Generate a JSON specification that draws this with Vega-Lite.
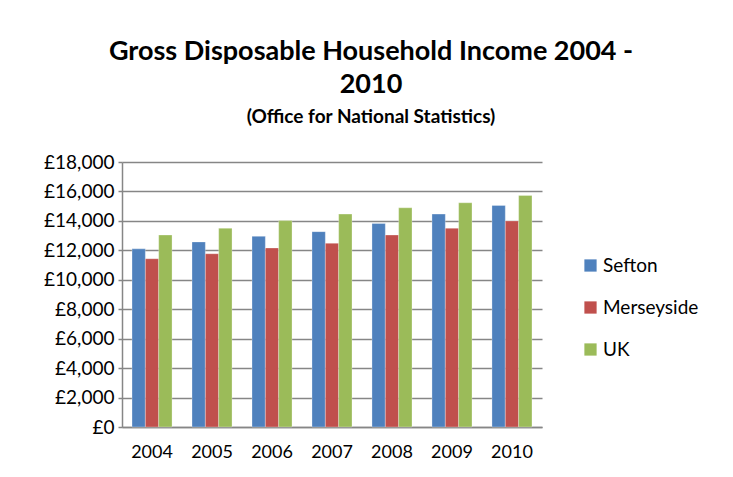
{
  "$schema": "https://vega.github.io/schema/vega-lite/v6.json",
  "width": 420,
  "height": 265,
  "autosize": {"type": "none"},
  "padding": {"left": 122, "top": 162, "right": 191, "bottom": 50},
  "background": "white",
  "title": {
    "text": ["Gross Disposable Household Income 2004 -", "2010"],
    "subtitle": "(Office for National Statistics)",
    "anchor": "middle",
    "frame": "group",
    "dx": 39,
    "offset": 25,
    "font": "Lato",
    "fontSize": 27,
    "fontWeight": "bold",
    "lineHeight": 33,
    "color": "#000000",
    "subtitleFont": "Lato",
    "subtitleFontSize": 19,
    "subtitleFontWeight": "bold",
    "subtitleColor": "#000000",
    "subtitlePadding": 9
  },
  "data": {
    "values": [
      {"year": "2004", "area": "Sefton", "income": 12100},
      {"year": "2004", "area": "Merseyside", "income": 11430},
      {"year": "2004", "area": "UK", "income": 13040},
      {"year": "2005", "area": "Sefton", "income": 12570},
      {"year": "2005", "area": "Merseyside", "income": 11770},
      {"year": "2005", "area": "UK", "income": 13500},
      {"year": "2006", "area": "Sefton", "income": 12950},
      {"year": "2006", "area": "Merseyside", "income": 12160},
      {"year": "2006", "area": "UK", "income": 14020},
      {"year": "2007", "area": "Sefton", "income": 13270},
      {"year": "2007", "area": "Merseyside", "income": 12480},
      {"year": "2007", "area": "UK", "income": 14460},
      {"year": "2008", "area": "Sefton", "income": 13820},
      {"year": "2008", "area": "Merseyside", "income": 13040},
      {"year": "2008", "area": "UK", "income": 14890},
      {"year": "2009", "area": "Sefton", "income": 14460},
      {"year": "2009", "area": "Merseyside", "income": 13500},
      {"year": "2009", "area": "UK", "income": 15230},
      {"year": "2010", "area": "Sefton", "income": 15050},
      {"year": "2010", "area": "Merseyside", "income": 14000},
      {"year": "2010", "area": "UK", "income": 15730}
    ]
  },
  "mark": {"type": "bar", "stroke": "white", "strokeWidth": 0.3},
  "encoding": {
    "x": {
      "field": "year",
      "type": "nominal",
      "title": null,
      "scale": {"paddingInner": 0.333, "paddingOuter": 0.167},
      "axis": {
        "labelAngle": 0,
        "labelFont": "Lato",
        "labelFontSize": 18,
        "labelColor": "#000000",
        "labelPadding": 16,
        "ticks": false,
        "domainColor": "#868686",
        "domainWidth": 1.5
      }
    },
    "xOffset": {
      "field": "area",
      "type": "nominal",
      "sort": ["Sefton", "Merseyside", "UK"],
      "scale": {"paddingInner": 0, "paddingOuter": 0}
    },
    "y": {
      "field": "income",
      "type": "quantitative",
      "title": null,
      "scale": {"domain": [0, 18000], "nice": false},
      "axis": {
        "values": [0, 2000, 4000, 6000, 8000, 10000, 12000, 14000, 16000, 18000],
        "labelExpr": "'£' + format(datum.value, ',')",
        "labelFont": "Lato",
        "labelFontSize": 19,
        "labelColor": "#000000",
        "labelPadding": 4,
        "tickColor": "#868686",
        "tickSize": 4,
        "tickWidth": 1.5,
        "domainColor": "#868686",
        "domainWidth": 1.5,
        "gridColor": "#868686",
        "gridWidth": 1.5
      }
    },
    "color": {
      "field": "area",
      "type": "nominal",
      "title": null,
      "sort": ["Sefton", "Merseyside", "UK"],
      "scale": {"domain": ["Sefton", "Merseyside", "UK"], "range": ["#4F81BD", "#C0504D", "#9BBB59"]},
      "legend": {
        "orient": "none",
        "legendX": 459,
        "legendY": 94,
        "symbolType": "square",
        "symbolSize": 150,
        "symbolStrokeWidth": 0,
        "labelFont": "Lato",
        "labelFontSize": 19,
        "labelColor": "#000000",
        "labelOffset": 3,
        "rowPadding": 22
      }
    }
  },
  "config": {"view": {"stroke": null}}
}
